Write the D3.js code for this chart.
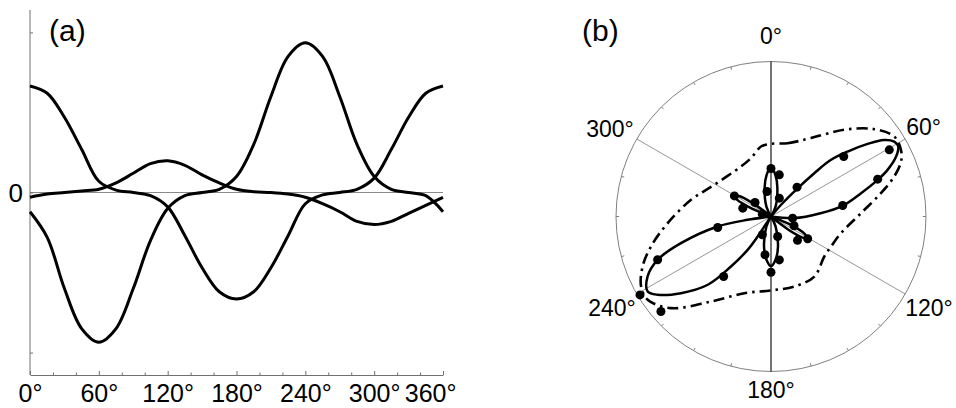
<!DOCTYPE html>
<html>
<head>
<meta charset="utf-8">
<script src="https://cdn.jsdelivr.net/npm/d3@7"></script>
<style>
  body { margin: 0; background: #fff; }
  text { font-family: "Liberation Sans", Arial, sans-serif; fill: #000; }
</style>
</head>
<body>
<script>
// ---- panel (a) data: three curves every 15 degrees
var angles = [0, 15, 30, 45, 60, 75, 90, 105, 120, 135, 150, 165, 180,
              195, 210, 225, 240, 255, 270, 285, 300, 315, 330, 345, 360];
var curveP = [0.665, 0.62, 0.47, 0.27, 0.07, 0.015, 0.0, -0.02, -0.09, -0.27, -0.47, -0.62, -0.665,
              -0.62, -0.47, -0.27, -0.07, -0.015, 0.0, 0.02, 0.09, 0.27, 0.47, 0.62, 0.665];
var curveS = [-0.12, -0.28, -0.6, -0.85, -0.935, -0.85, -0.6, -0.3, -0.1, -0.02, 0.0, 0.02, 0.1,
              0.3, 0.6, 0.85, 0.935, 0.85, 0.6, 0.3, 0.1, 0.02, 0.0, -0.02, -0.12];
var curveR = [-0.03, -0.01, 0.0, 0.01, 0.02, 0.06, 0.12, 0.18, 0.198, 0.17, 0.11, 0.06, 0.02,
              0.005, 0.0, -0.01, -0.03, -0.07, -0.12, -0.18, -0.2, -0.18, -0.13, -0.08, -0.03];
var xMajor = [0, 60, 120, 180, 240, 300, 360];
var xMinor = [20, 40, 80, 100, 140, 160, 200, 220, 260, 280, 320, 340];
var yTicks = [-1, 0, 1];

// ---- panel (b) data: [angle in degrees, radius as fraction of outer circle]
var lobe60 = [[38, 0], [40.6, 0.1], [43.3, 0.25], [45, 0.395], [46.6, 0.53], [49.7, 0.648], [53.1, 0.78],
              [55.9, 0.88], [58.7, 0.93], [61.2, 0.937], [64.4, 0.895], [68.2, 0.81], [71, 0.73],
              [75.5, 0.6], [81.5, 0.467], [86.2, 0.32], [94, 0.15], [100, 0]];
var lobe240 = [[205, 0], [213.7, 0.078], [213.7, 0.155], [215, 0.263], [218.7, 0.413], [222.8, 0.6],
               [229.6, 0.763], [235.4, 0.889], [238.7, 0.931], [244.1, 0.885], [249.1, 0.783],
               [253.5, 0.606], [259.4, 0.35], [261.9, 0.152], [265, 0]];
var lobe0 = [[-30, 0], [-25, 0.07], [-12.5, 0.19], [-6, 0.27], [0, 0.32], [6, 0.27], [12.5, 0.19], [25, 0.07], [30, 0]];
var lobe180 = [[150, 0], [155, 0.07], [167, 0.2], [174, 0.28], [180, 0.32], [186, 0.28], [193, 0.2], [205, 0.07], [210, 0]];
var lobe300 = [[288, 0], [291, 0.06], [293, 0.15], [296, 0.24], [299.5, 0.27], [303, 0.24], [306, 0.15], [308, 0.06], [311, 0]];
var lobe120 = [[108, 0], [111, 0.06], [113, 0.15], [117, 0.24], [121, 0.277], [124, 0.24], [127, 0.15], [129, 0.06], [132, 0]];
var envelope = [[0, 0.469], [12.8, 0.485], [27, 0.568], [40.2, 0.733], [49.8, 0.873], [57, 0.948],
                [62.9, 0.942], [67.1, 0.911], [72, 0.836], [78, 0.725], [87.9, 0.581], [103.4, 0.464],
                [116.6, 0.433], [126.9, 0.43], [144.2, 0.478], [161.6, 0.476], [180, 0.477],
                [199.2, 0.524], [215.2, 0.671], [227.5, 0.875], [236, 0.96], [241.7, 0.952],
                [248.7, 0.889], [256, 0.798], [266.3, 0.668], [281.8, 0.527], [299.2, 0.419],
                [329, 0.376], [341.1, 0.398], [351.9, 0.456]];
var dots = [[60.6, 0.876], [50.5, 0.608], [70.7, 0.729], [81.3, 0.468], [41.6, 0.253], [94.4, 0.14],
            [258.3, 0.351], [249.1, 0.783], [218.3, 0.493], [239.1, 0.985], [229.2, 0.938],
            [0, 0.31], [11.3, 0.274], [350.9, 0.163], [24.4, 0.13], [299.4, 0.271], [286.4, 0.19],
            [311.2, 0.137], [285, 0.058], [205.3, 0.13], [188.9, 0.25], [169.1, 0.285], [180, 0.36],
            [161.6, 0.136], [111.8, 0.16], [132, 0.23], [121.3, 0.277]];
var polarLabels = [0, 60, 120, 180, 240, 300];
var polarTicks = [15, 30, 45, 75, 90, 105, 135, 150, 165, 195, 210, 225, 255, 270, 285, 315, 330, 345];

var svg = d3.select("body").append("svg")
    .attr("width", 956)
    .attr("height", 408);

// ================= panel (a)
var x = d3.scaleLinear().domain([0, 360]).range([30, 443]);
var y = d3.scaleLinear().domain([-1.14, 1.14]).range([375, 10]);

var axisColor = "#707070";

// zero line
svg.append("line")
    .attr("x1", x(0)).attr("x2", x(360))
    .attr("y1", y(0)).attr("y2", y(0))
    .attr("stroke", "#8a8a8a").attr("stroke-width", 1);

// minor x ticks
svg.append("g")
    .attr("transform", "translate(0," + y.range()[0] + ")")
    .call(d3.axisBottom(x).tickValues(xMinor).tickSize(-2.5).tickSizeOuter(0).tickFormat(""))
    .call(function(g) { g.select(".domain").remove(); })
    .selectAll("line").attr("stroke", axisColor);

// major x ticks + labels
var xAxis = svg.append("g")
    .attr("transform", "translate(0," + y.range()[0] + ")")
    .call(d3.axisBottom(x).tickValues(xMajor).tickSize(-4).tickSizeOuter(0)
      .tickFormat(function(d) { return d + "°"; }));
xAxis.select(".domain").attr("stroke", axisColor);
xAxis.selectAll("line").attr("stroke", axisColor);
xAxis.selectAll("text")
    .attr("y", 27).attr("dy", 0)
    .style("font-size", "25px")
    .style("font-family", "'Liberation Sans', Arial, sans-serif");
// last label is pulled in so it stays inside the panel, as in the original
xAxis.selectAll("text").filter(function(d) { return d === 360; })
    .attr("text-anchor", "end").attr("x", 13);

// y axis
var yAxis = svg.append("g")
    .attr("transform", "translate(" + x.range()[0] + ",0)")
    .call(d3.axisLeft(y).tickValues(yTicks).tickSize(-3).tickSizeOuter(0)
      .tickFormat(function(d) { return d === 0 ? "0" : ""; }));
yAxis.select(".domain").attr("stroke", axisColor).attr("d", "M0," + y.range()[0] + "V" + y.range()[1]);
yAxis.selectAll("line").attr("stroke", axisColor);
yAxis.selectAll("text")
    .attr("x", -7).attr("dy", "0.36em")
    .style("font-size", "26px")
    .style("font-family", "'Liberation Sans', Arial, sans-serif");

var line = d3.line()
    .x(function(d, i) { return x(angles[i]); })
    .y(function(d) { return y(d); })
    .curve(d3.curveCatmullRom);

[curveP, curveS, curveR].forEach(function(series) {
  svg.append("path")
      .attr("d", line(series))
      .attr("fill", "none")
      .attr("stroke", "#000")
      .attr("stroke-width", 3);
});

svg.append("text")
    .attr("x", 49).attr("y", 41)
    .style("font-size", "30px")
    .text("(a)");

// ================= panel (b)
var cx = 771, cy = 216.5, R = 155;
var r = d3.scaleLinear().domain([0, 1]).range([0, R]);
var rad = function(deg) { return deg * Math.PI / 180; };
var px = function(a, v) { return r(v) * Math.sin(rad(a)); };
var py = function(a, v) { return -r(v) * Math.cos(rad(a)); };

var polar = svg.append("g").attr("transform", "translate(" + cx + "," + cy + ")");

polar.append("circle")
    .attr("r", r(1))
    .attr("fill", "none")
    .attr("stroke", "#808080")
    .attr("stroke-width", 1);

// circle ticks
polar.selectAll(".ptick")
    .data(polarTicks)
  .enter().append("line")
    .attr("class", "ptick")
    .attr("x1", function(d) { return px(d, 1); })
    .attr("y1", function(d) { return py(d, 1); })
    .attr("x2", function(d) { return px(d, 0.98); })
    .attr("y2", function(d) { return py(d, 0.98); })
    .attr("stroke", "#808080");

// spokes
polar.selectAll(".spoke")
    .data([0, 60, 120])
  .enter().append("line")
    .attr("class", "spoke")
    .attr("x1", function(d) { return px(d, 1); })
    .attr("y1", function(d) { return py(d, 1); })
    .attr("x2", function(d) { return px(d + 180, 1); })
    .attr("y2", function(d) { return py(d + 180, 1); })
    .attr("stroke", function(d) { return d === 0 ? "#000" : "#8a8a8a"; })
    .attr("stroke-width", function(d) { return d === 0 ? 1.1 : 0.9; });

// labels
var labelPos = {
  0:   {anchor: "middle", dx: 0,  dy: -18},
  60:  {anchor: "start",  dx: 1,  dy: -4},
  120: {anchor: "start",  dx: 0,  dy: 22},
  180: {anchor: "middle", dx: 0,  dy: 26},
  240: {anchor: "end",    dx: -1, dy: 22},
  300: {anchor: "end",    dx: -3, dy: -2}
};
polar.selectAll(".plabel")
    .data(polarLabels)
  .enter().append("text")
    .attr("class", "plabel")
    .attr("x", function(d) { return px(d, 1) + labelPos[d].dx; })
    .attr("y", function(d) { return py(d, 1) + labelPos[d].dy; })
    .attr("text-anchor", function(d) { return labelPos[d].anchor; })
    .style("font-size", "23px")
    .text(function(d) { return d + "°"; });

var radial = d3.lineRadial()
    .angle(function(d) { return rad(d[0]); })
    .radius(function(d) { return r(d[1]); })
    .curve(d3.curveCatmullRom);

polar.append("path")
    .attr("d", radial.curve(d3.curveCatmullRomClosed)(envelope))
    .attr("fill", "none")
    .attr("stroke", "#000")
    .attr("stroke-width", 2.6)
    .attr("stroke-dasharray", "11,5,2.5,5");

radial.curve(d3.curveCatmullRom);
[lobe60, lobe240, lobe0, lobe180, lobe300, lobe120].forEach(function(lobe) {
  polar.append("path")
      .attr("d", radial(lobe))
      .attr("fill", "none")
      .attr("stroke", "#000")
      .attr("stroke-width", 2.5);
});

polar.selectAll(".dot")
    .data(dots)
  .enter().append("circle")
    .attr("class", "dot")
    .attr("cx", function(d) { return px(d[0], d[1]); })
    .attr("cy", function(d) { return py(d[0], d[1]); })
    .attr("r", 4.5)
    .attr("fill", "#000");

svg.append("text")
    .attr("x", 582).attr("y", 41)
    .style("font-size", "30px")
    .text("(b)");
</script>
</body>
</html>
